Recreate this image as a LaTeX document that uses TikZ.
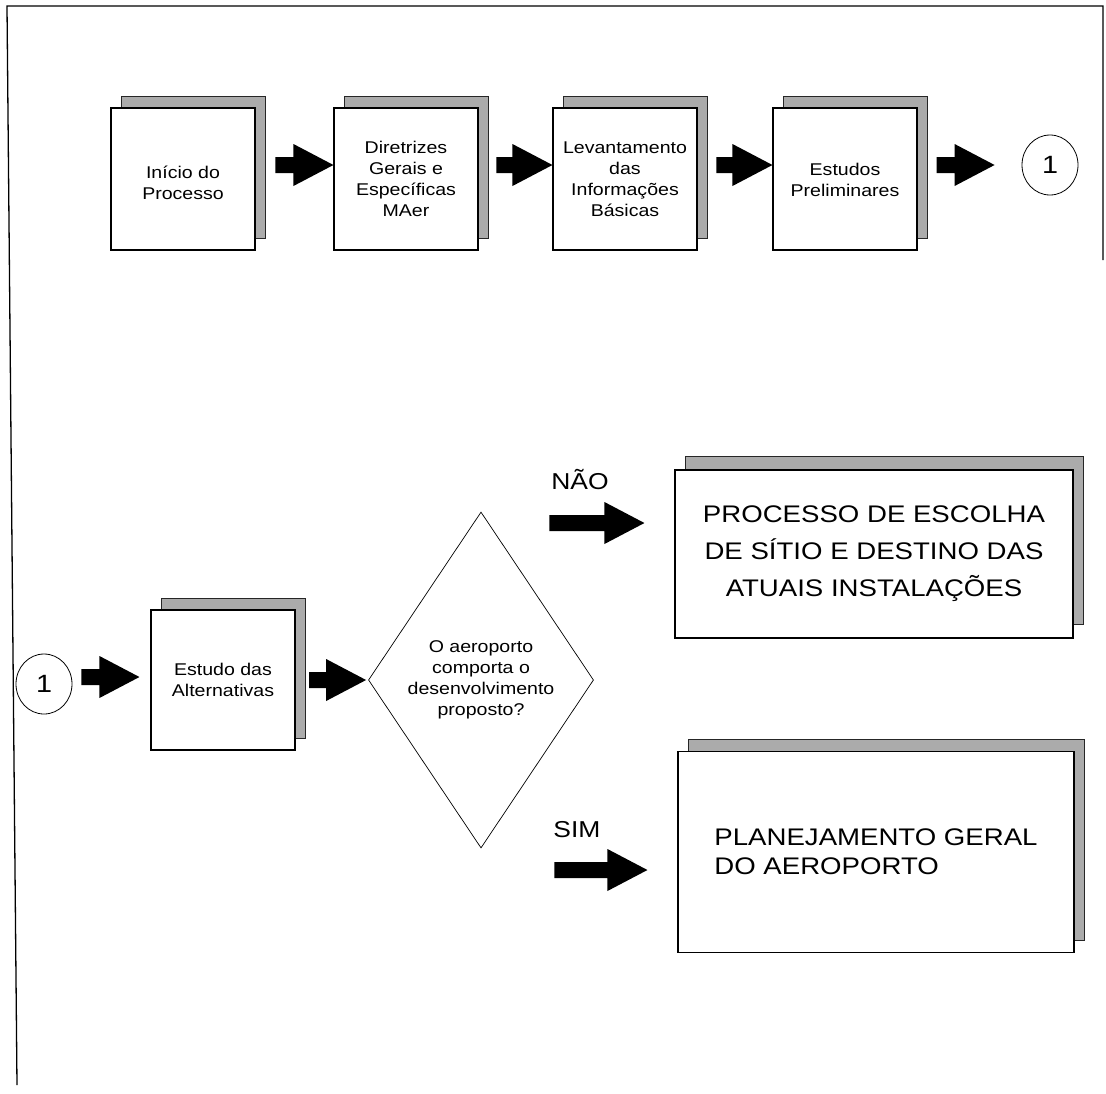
\documentclass[tikz,border=0pt]{standalone}
\usepackage{fontspec}
\setmainfont{Liberation Sans}
\newfontfamily\hv[FakeStretch=1.15]{Liberation Sans}
\usetikzlibrary{shapes.geometric,shadows,calc}
\newcommand\barrow[2]{\fill #1 -- ++(-40,-21) -- ++(0,13) -- ++(-#2,0) -- ++(0,16) -- ++(#2,0) -- ++(0,13) -- cycle;}
\newcommand\lowertext[2]{\raisebox{-#1}[\height][\depth]{\begin{tabular}{@{}c@{}}#2\end{tabular}}}
\begin{document}
\begin{tikzpicture}[x=1pt,y=-1pt,
  shd/.style={drop shadow={shadow xshift=10pt, shadow yshift=#1, opacity=1, fill=black!33, draw=black!85, line width=0.8pt}},
  shd/.default=12pt,
  box/.style={draw=black, line width=1.1pt, fill=white, inner sep=0pt, align=center,
     font=\hv\fontsize{17}{21}\selectfont, minimum width=144pt, minimum height=142pt, shd},
  bigbox/.style={draw=black, line width=1.1pt, fill=white, inner sep=0pt,
     font=\hv\fontsize{24}{37}\selectfont},
  circ/.style={draw=black, line width=0.8pt, ellipse, minimum width=56pt, minimum height=60pt, inner sep=0pt, font=\hv\fontsize{25}{30}\selectfont},
  lbl/.style={font=\hv\fontsize{23}{28}\selectfont, inner sep=0pt}]
\useasboundingbox (0,0) rectangle (1106,1093);
\draw[line width=1.3pt] (17,1085) -- (7,6) -- (1103,6) -- (1103,260);

% top row
\node[box] (b1) at (183,179) {\lowertext{6pt}{Início do\\Processo}};
\node[box] (b2) at (406,179) {Diretrizes\\Gerais e\\Específicas\\MAer};
\node[box] (b3) at (625,179) {Levantamento\\das\\Informações\\Básicas};
\node[box] (b4) at (845,179) {\lowertext{3pt}{Estudos\\Preliminares}};
\node[circ] (c1) at (1050,165) {1};
\barrow{([yshift=14pt]b2.west)}{18}
\barrow{([yshift=14pt]b3.west)}{16}
\barrow{([yshift=14pt]b4.west)}{16}
\barrow{([xshift=-27pt]c1.west)}{18}

% bottom part
\node[circ] (c2) at (44,684) {1};
\node[box, minimum height=140pt] (b5) at (223,680) {Estudo das\\Alternativas};
\node[diamond, draw=black, line width=0.7pt, minimum width=214pt, minimum height=336pt, inner sep=0pt, align=center, font=\hv\fontsize{17}{21}\selectfont] (d) at (481,680) {O aeroporto\\comporta o\\desenvolvimento\\proposto?};
\node[bigbox, shd=14pt, align=center, minimum width=398pt, minimum height=168pt] (n1) at (874,554) {PROCESSO DE ESCOLHA\\DE SÍTIO E DESTINO DAS\\ATUAIS INSTALAÇÕES};
\node[bigbox, shd=12pt, align=left, minimum width=396pt, minimum height=201pt, font=\hv\fontsize{24}{29}\selectfont] (n2) at (876,852) {PLANEJAMENTO GERAL\\DO AEROPORTO};
\barrow{([xshift=-11pt,yshift=3pt]b5.west)}{18}
\barrow{([xshift=-2pt]d.west)}{17}
\barrow{([xshift=-30pt,yshift=31pt]n1.west)}{55}
\barrow{([xshift=-30pt,yshift=-18pt]n2.west)}{53}
\node[lbl] (nao) at (580,480) {NÃO};
\node[lbl] (sim) at (577,830) {SIM};
\end{tikzpicture}
\end{document}
